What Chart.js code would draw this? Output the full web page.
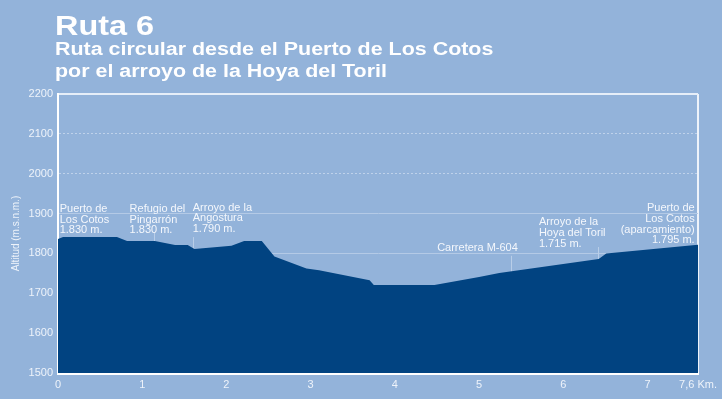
<!DOCTYPE html>
<html>
<head>
<meta charset="utf-8">
<script src="https://cdn.jsdelivr.net/npm/chart.js@4"></script>
<style>
  body { margin: 0; background: #93b3da; font-family: "Liberation Sans", Arial, sans-serif; }
  #wrap { position: relative; width: 722px; height: 399px; }
  #ruta { position: absolute; left: 55px; top: 13px; font-size: 27px; line-height: 27px; font-weight: bold; color: #fff; transform: scaleX(1.2); transform-origin: left top; }
  #sub { position: absolute; left: 55px; top: 38px; font-size: 17.5px; line-height: 22px; font-weight: bold; color: #fff; transform: scaleX(1.225); transform-origin: left top; white-space: nowrap; }
  canvas { position: absolute; left: 0; top: 0; }
</style>
</head>
<body>
<div id="wrap">
  <canvas id="perfil" width="722" height="399"></canvas>
  <div id="ruta">Ruta 6</div>
  <div id="sub">Ruta circular desde el Puerto de Los Cotos<br>por el arroyo de la Hoya del Toril</div>
</div>
<script>
// perfil de la ruta
const distKm = [0, 0.06, 0.70, 0.82, 1.15, 1.39, 1.54, 1.62, 2.06, 2.21, 2.42, 2.57, 2.95, 3.10, 3.70, 3.75, 4.47, 5.00, 5.24, 6.42, 6.51, 7.60];
const altitud = [1836, 1841, 1841, 1831, 1831, 1821, 1821, 1811, 1819, 1831, 1831, 1792, 1762, 1758, 1733, 1721, 1721, 1741, 1751, 1786, 1800, 1822];

const ticksKm = [0, 1, 2, 3, 4, 5, 6, 7, 7.6];
const ticksAlt = [1500, 1600, 1700, 1800, 1900, 2000, 2100, 2200];

// rotulos de los puntos de paso
const notaTextos = [
    ['Puerto de', 'Los Cotos', '1.830 m.'],
    ['Refugio del', 'Pingarrón', '1.830 m.'],
    ['Arroyo de la', 'Angostura', '1.790 m.'],
    ['Carretera M-604'],
    ['Arroyo de la', 'Hoya del Toril', '1.715 m.'],
    ['Puerto de', 'Los Cotos', '(aparcamiento)', '1.795 m.']
];
const notaKm = [0.02, 0.85, 1.60, 5.46, 5.71, 7.56];
const notaAlt = [1911, 1911, 1915, 1813, 1878, 1913];
const notaAlign = ['left', 'left', 'left', 'right', 'left', 'right'];

// marcas verticales
const marcaKm = [1.14, 1.60, 5.38, 6.41];
const marcaAlt = [1853, 1841, 1794, 1816];

const puntos = distKm.map((d, i) => ({ x: d, y: altitud[i] }));

const rotulos = {
    id: 'rotulos',
    beforeDatasetsDraw(chart) {
        const { ctx, scales: { x, y } } = chart;
        ctx.save();
        ctx.strokeStyle = '#b9cee8';
        ctx.lineWidth = 1;
        marcaKm.forEach((km, i) => {
            const px = Math.round(x.getPixelForValue(km)) + 0.5;
            ctx.beginPath();
            ctx.moveTo(px, y.getPixelForValue(marcaAlt[i]));
            ctx.lineTo(px, y.getPixelForValue(1500));
            ctx.stroke();
        });
        ctx.restore();
    },
    afterDatasetsDraw(chart) {
        const { ctx, scales: { x, y } } = chart;
        ctx.save();
        ctx.font = '11px "Liberation Sans", Arial, sans-serif';
        ctx.fillStyle = '#f4f7fc';
        ctx.textBaseline = 'middle';
        notaTextos.forEach((lineas, i) => {
            ctx.textAlign = notaAlign[i];
            const px = x.getPixelForValue(notaKm[i]);
            const py = y.getPixelForValue(notaAlt[i]);
            lineas.forEach((t, j) => ctx.fillText(t, px, py + j * 10.6));
        });
        ctx.restore();
    }
};

new Chart(document.getElementById('perfil'), {
    type: 'line',
    data: {
        datasets: [{
            data: puntos,
            borderWidth: 0,
            pointRadius: 0,
            tension: 0,
            fill: 'start',
            backgroundColor: '#014381'
        }]
    },
    options: {
        responsive: false,
        animation: false,
        layout: { padding: { top: 94, right: 23, left: 0, bottom: 0 } },
        plugins: { legend: { display: false }, tooltip: { enabled: false } },
        scales: {
            x: {
                type: 'linear',
                min: 0,
                max: 7.6,
                afterBuildTicks: (scale) => { scale.ticks = ticksKm.map(v => ({ value: v })); },
                afterFit: (scale) => { scale.height = 26; },
                ticks: {
                    color: '#eef3fa',
                    font: { family: '"Liberation Sans", Arial, sans-serif', size: 11 },
                    padding: 5,
                    maxRotation: 0,
                    autoSkip: false,
                    callback: (v) => v === 7.6 ? '7,6 Km.' : String(v)
                },
                grid: {
                    drawTicks: false,
                    color: (c) => c.tick && c.tick.value === 7.6 ? '#eef3fa' : 'rgba(0,0,0,0)',
                    lineWidth: 2
                },
                border: { color: '#ffffff', width: 3 }
            },
            y: {
                min: 1500,
                max: 2200,
                afterBuildTicks: (scale) => { scale.ticks = ticksAlt.map(v => ({ value: v })); },
                afterFit: (scale) => { scale.width = 58; },
                ticks: {
                    color: '#eef3fa',
                    font: { family: '"Liberation Sans", Arial, sans-serif', size: 11 },
                    padding: 5,
                    callback: (v) => String(v)
                },
                title: {
                    display: true,
                    text: 'Altitud (m.s.n.m.)',
                    color: '#eef3fa',
                    font: { family: '"Liberation Sans", Arial, sans-serif', size: 10 },
                    padding: { top: 10, bottom: 0 }
                },
                grid: {
                    drawTicks: false,
                    color: (c) => {
                        const v = c.tick ? c.tick.value : 0;
                        if (v === 2200) return '#e6eef8';
                        if (v === 1500) return 'rgba(0,0,0,0)';
                        if (v === 1800 || v === 1900) return '#b4cae6';
                        return '#bfd2ea';
                    },
                    lineWidth: (c) => c.tick && c.tick.value === 2200 ? 2 : 1
                },
                border: {
                    color: '#ffffff',
                    width: 2,
                    dash: (c) => c.tick && (c.tick.value === 2000 || c.tick.value === 2100) ? [2, 2] : []
                }
            }
        }
    },
    plugins: [rotulos]
});
</script>
</body>
</html>
